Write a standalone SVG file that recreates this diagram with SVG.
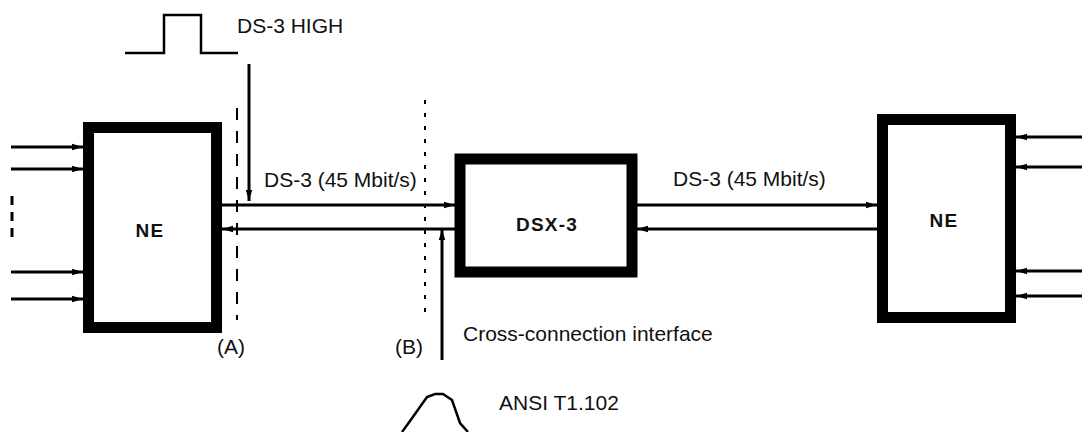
<svg xmlns="http://www.w3.org/2000/svg" width="1082" height="432" viewBox="0 0 1082 432">
<style>
.box{fill:#fff;stroke:#000;stroke-width:11}
.ln{stroke:#000;stroke-width:3;fill:none}
.lbl{font-family:"Liberation Sans",Arial,sans-serif;font-size:21px;fill:#111}
.bold{font-family:"Liberation Sans",Arial,sans-serif;font-size:19px;font-weight:bold;letter-spacing:1.2px;fill:#111;text-anchor:middle}
.ref{stroke:#000;stroke-width:2.5;fill:none}
</style>
<defs>
<marker id="ah" markerUnits="userSpaceOnUse" markerWidth="11" markerHeight="8" refX="11" refY="4" orient="auto">
<path d="M0,0.8 L11,4 L0,7.2 z" fill="#000"/>
</marker>
</defs>
<rect width="1082" height="432" fill="#fff"/>
<g id="ne-left">
<rect class="box" x="88.5" y="127.5" width="128" height="200"/>
<text class="bold" x="150" y="237">NE</text>
</g>
<g id="dsx3">
<rect class="box" x="460" y="159" width="172" height="113"/>
<text class="bold" x="547" y="231">DSX-3</text>
</g>
<g id="ne-right">
<rect class="box" x="882.5" y="119.5" width="128" height="198"/>
<text class="bold" x="944" y="227">NE</text>
</g>
<g id="signals">
<polyline class="ref" points="125,53 164,53 164,15 201,15 201,53 238,53"/>
<path class="ref" d="M402,432 L410,421 L427,397 L435,394 L443,394 L452,400 L460,423 L468,432"/>
</g>
<g id="connectors">
<line class="ln" x1="11" y1="147" x2="83" y2="147" marker-end="url(#ah)"/>
<line class="ln" x1="11" y1="169" x2="83" y2="169" marker-end="url(#ah)"/>
<line class="ln" x1="11" y1="272" x2="83" y2="272" marker-end="url(#ah)"/>
<line class="ln" x1="11" y1="299" x2="83" y2="299" marker-end="url(#ah)"/>
<line class="ln" x1="222" y1="205" x2="455" y2="205" marker-end="url(#ah)"/>
<line class="ln" x1="455" y1="229" x2="222" y2="229" marker-end="url(#ah)"/>
<line class="ln" x1="637" y1="205" x2="877" y2="205" marker-end="url(#ah)"/>
<line class="ln" x1="877" y1="229" x2="637" y2="229" marker-end="url(#ah)"/>
<line class="ln" x1="1082" y1="137" x2="1016" y2="137" marker-end="url(#ah)"/>
<line class="ln" x1="1082" y1="167" x2="1016" y2="167" marker-end="url(#ah)"/>
<line class="ln" x1="1082" y1="271" x2="1016" y2="271" marker-end="url(#ah)"/>
<line class="ln" x1="1082" y1="296" x2="1016" y2="296" marker-end="url(#ah)"/>
<line class="ln" x1="249" y1="64" x2="249" y2="201" marker-end="url(#ah)"/>
<line class="ln" x1="442" y1="360" x2="442" y2="229" marker-end="url(#ah)"/>
<line stroke="#000" stroke-width="3" stroke-dasharray="9,7" x1="12" y1="196" x2="12" y2="241"/>
<line stroke="#000" stroke-width="2" stroke-dasharray="12,11" x1="237" y1="108" x2="237" y2="320"/>
<line stroke="#000" stroke-width="2" stroke-dasharray="4,9" x1="425" y1="100" x2="425" y2="318"/>
</g>
<g id="labels">
<text class="lbl" x="237" y="33">DS-3 HIGH</text>
<text class="lbl" x="264" y="187">DS-3 (45 Mbit/s)</text>
<text class="lbl" x="673" y="186">DS-3 (45 Mbit/s)</text>
<text class="lbl" x="217" y="354">(A)</text>
<text class="lbl" x="395" y="354">(B)</text>
<text class="lbl" x="463" y="341">Cross-connection interface</text>
<text class="lbl" x="499" y="410">ANSI T1.102</text>
</g>
</svg>
